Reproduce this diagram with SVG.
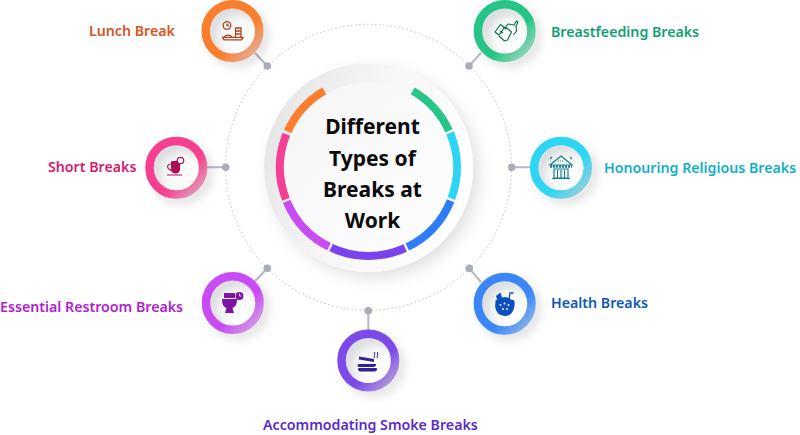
<svg xmlns="http://www.w3.org/2000/svg" width="800" height="435" viewBox="0 0 800 435">
<style>
text{font-family:"Noto Sans","Open Sans","Liberation Sans",sans-serif}
.lb{font-size:14.2px;font-weight:600}
.tt{font-size:21px;font-weight:700;fill:#0b0b0b;text-anchor:middle}
.seg{fill:none;stroke-width:8}
.ln{stroke:#b4b8c2;stroke-width:2;fill:none}
.dt{fill:#a9adb8}
.disc{fill:url(#discG)}
.ring{fill:none;stroke-width:8.5}
</style>
<defs>
<filter id="sh" x="-40%" y="-40%" width="190%" height="190%"><feDropShadow dx="5" dy="5" stdDeviation="5" flood-color="#000" flood-opacity=".13"/></filter>
<filter id="shB" x="-30%" y="-30%" width="170%" height="170%"><feDropShadow dx="6" dy="6" stdDeviation="8" flood-color="#000" flood-opacity=".12"/></filter>
<linearGradient id="discG" x1="0" y1="0" x2="1" y2="1"><stop offset="0" stop-color="#eceef0"/><stop offset=".6" stop-color="#fbfbfb"/><stop offset="1" stop-color="#fff"/></linearGradient>
<linearGradient id="bigG" x1="0" y1="0" x2="1" y2=".35"><stop offset="0" stop-color="#e2e2e3"/><stop offset=".55" stop-color="#f6f6f7"/><stop offset="1" stop-color="#fefefe"/></linearGradient>
<linearGradient id="bigI" x1="0" y1="0" x2="1" y2="1"><stop offset="0" stop-color="#f5f5f6"/><stop offset="1" stop-color="#fefefe"/></linearGradient>
<linearGradient id="gO" x1=".2" y1=".2" x2=".9" y2=".9"><stop offset=".6" stop-color="#fb7d2e"/><stop offset="1" stop-color="#e6a98c"/></linearGradient>
<linearGradient id="gG" x1=".2" y1=".2" x2=".9" y2=".9"><stop offset=".6" stop-color="#27c587"/><stop offset="1" stop-color="#8ad3b6"/></linearGradient>
<linearGradient id="gC" x1=".2" y1=".2" x2=".9" y2=".9"><stop offset=".6" stop-color="#2fd6f3"/><stop offset="1" stop-color="#8bcfdf"/></linearGradient>
<linearGradient id="gB" x1=".2" y1=".2" x2=".9" y2=".9"><stop offset=".6" stop-color="#3a85f8"/><stop offset="1" stop-color="#7fabee"/></linearGradient>
<linearGradient id="gV" x1=".2" y1=".2" x2=".9" y2=".9"><stop offset=".6" stop-color="#7a4bea"/><stop offset="1" stop-color="#ab92da"/></linearGradient>
<linearGradient id="gM" x1=".2" y1=".2" x2=".9" y2=".9"><stop offset=".6" stop-color="#c94cf3"/><stop offset="1" stop-color="#cf93e6"/></linearGradient>
<linearGradient id="gP" x1=".2" y1=".2" x2=".9" y2=".9"><stop offset=".6" stop-color="#f6418f"/><stop offset="1" stop-color="#e590b4"/></linearGradient>
</defs>
<rect width="800" height="435" fill="#fff"/>
<g id="connectors">
<circle cx="368.500" cy="167.300" r="143" fill="none" stroke="#b9bcc4" stroke-width="1" stroke-dasharray="1.500 2.500"/>
<path class="ln" d="M255 53L267.300 66M481 53L469 66M531 167.300H511.700M207 167.300H225.700M481 282L469.300 268.300M255 281L267.300 268.300M368.300 331V310.700"/>
<circle class="dt" cx="267.300" cy="66" r="3.800"/><circle class="dt" cx="469" cy="66" r="3.800"/><circle class="dt" cx="511.700" cy="167.300" r="3.800"/><circle class="dt" cx="469.300" cy="268.300" r="3.800"/><circle class="dt" cx="368.300" cy="310.700" r="3.800"/><circle class="dt" cx="267.300" cy="268.300" r="3.800"/><circle class="dt" cx="225.700" cy="167.300" r="3.800"/>
</g>
<g id="center">
<circle cx="368.500" cy="167.500" r="104.500" fill="url(#bigG)" filter="url(#shB)"/>
<circle cx="368.500" cy="167.500" r="85" fill="url(#bigI)"/>
<path class="seg" stroke="#fb7d2e" d="M324.250 90.860A88.500 88.500 0 0 0 287.650 131.500"/>
<path class="seg" stroke="#f43f93" d="M286.400 134.350A88.500 88.500 0 0 0 285.900 199.200"/>
<path class="seg" stroke="#c94cf3" d="M286.700 201.400A88.500 88.500 0 0 0 329 246.700"/>
<path class="seg" stroke="#7a43ee" d="M331.100 247.700A88.500 88.500 0 0 0 405.200 248"/>
<path class="seg" stroke="#2f7cf8" d="M407.300 247A88.500 88.500 0 0 0 450.600 200.650"/>
<path class="seg" stroke="#2dd5f5" d="M451.400 198.500A88.500 88.500 0 0 0 450 132.900"/>
<path class="seg" stroke="#27c587" d="M449 130.800A88.500 88.500 0 0 0 412.750 90.860"/>
<text class="tt" x="372.500" y="134">Different</text>
<text class="tt" x="372.500" y="166">Types of</text>
<text class="tt" x="372.500" y="197">Breaks at</text>
<text class="tt" x="372.500" y="228">Work</text>
</g>
<g id="node-lunch">
<circle cx="232.500" cy="31" r="22.500" class="disc"/>
<circle cx="232.500" cy="31" r="26.800" class="ring" stroke="url(#gO)" filter="url(#sh)"/>
<g fill="none" stroke="#a9451f" stroke-width="1.300"><circle cx="227" cy="25.500" r="3.800"/><path d="M227 23.500V25.500H229"/><path d="M224 37a4.500 3.500 0 0 1 8 0M235.500 28v9M241 28v9M235 28h6.500M235 31h6.500M235 34h6.500"/><path d="M222.500 37.300h20.500l-1.500 2.500h-17.500z"/></g>
<text class="lb" x="89" y="36" fill="#d9541e">Lunch Break</text>
</g>
<g id="node-breastfeeding">
<circle cx="504.700" cy="31" r="22.500" class="disc"/>
<circle cx="504.700" cy="31" r="26.800" class="ring" stroke="url(#gG)" filter="url(#sh)"/>
<g fill="none" stroke="#0e7352" stroke-width="1.200" stroke-linejoin="round"><path d="M495 32l5.500-7.500 4 3-5.500 7.500zM499 36l5.500 5 3-1 4-8-6-5M505 28l3-4 6 1 2.500-4 1.500 1-2 4 .5 5-3 4M500 31l3 2M503 27l3 2"/></g>
<text class="lb" x="551" y="37" fill="#0fa174">Breastfeeding Breaks</text>
</g>
<g id="node-religious">
<circle cx="561" cy="167.800" r="22.500" class="disc"/>
<circle cx="561" cy="167.800" r="26.800" class="ring" stroke="url(#gC)" filter="url(#sh)"/>
<g fill="none" stroke="#167f92" stroke-width="1.200"><path d="M561 156l-11 9h22zM554 169h14v9h-14zM557.500 170v8M561 170v8M564.500 170v8M552 178.500h18M552 157l-2 2M570 157l2 2"/><path d="M550 166.500h22" stroke-width="2.500" stroke-dasharray="2 1"/><path d="M558 161h6" stroke-dasharray="1 1"/></g>
<text class="lb" x="604" y="173" fill="#12afc9">Honouring Religious Breaks</text>
</g>
<g id="node-health">
<circle cx="504.700" cy="303.700" r="22.500" class="disc"/>
<circle cx="504.700" cy="303.700" r="26.800" class="ring" stroke="url(#gB)" filter="url(#sh)"/>
<path d="M495.500 300h18.500a9.500 9.500 0 0 1-18.500 7z" fill="#0d4fc0"/><circle cx="504.700" cy="306.500" r="9.500" fill="#0d4fc0"/>
<path d="M496 296l4.500-3.500 2 6.500-5 2z" fill="#0d4fc0"/><path d="M509 300l1-7h3.500" fill="none" stroke="#0d4fc0" stroke-width="1.300"/>
<g fill="#fff"><circle cx="500.500" cy="305" r=".9"/><circle cx="504.500" cy="303.500" r=".9"/><circle cx="508.500" cy="305" r=".9"/><circle cx="503" cy="309" r=".9"/><circle cx="507" cy="309" r=".9"/></g>
<text class="lb" x="551" y="308" fill="#0d57b8">Health Breaks</text>
</g>
<g id="node-smoke">
<circle cx="368.300" cy="360.500" r="22.500" class="disc"/>
<circle cx="368.300" cy="360.500" r="26.800" class="ring" stroke="url(#gV)" filter="url(#sh)"/>
<path d="M359 356.500l15 2.500v3l-15-2.500z" fill="#35209a"/><path d="M359 364h17v1.500l-2 1.500h-15a1.500 1.500 0 0 1 0-3z M359 368h17a1 1 0 0 1 1 1a2.500 2.500 0 0 1-2.500 2.500h-14a2.500 2.500 0 0 1-2.500-2.500a1 1 0 0 1 1-1z" fill="#35209a"/><path d="M374.500 358c-1-2 1-3 0-6M377.500 358c-1-2 1-3 0-6" fill="none" stroke="#35209a" stroke-width="1"/>
<text class="lb" x="263" y="430" fill="#5b2bc9">Accommodating Smoke Breaks</text>
</g>
<g id="node-restroom">
<circle cx="232.800" cy="303" r="22.500" class="disc"/>
<circle cx="232.800" cy="303" r="26.800" class="ring" stroke="url(#gM)" filter="url(#sh)"/>
<path d="M224 293h11v5h-11zM222 299h15c0 6-2 8-4.500 9l1.500 5h-9l1.500-5c-2.500-1-4.500-3-4.500-9z" fill="#7e14a6"/><circle cx="239.500" cy="296" r="4" fill="#7e14a6"/><path d="M239.500 293.500v2.500h2" fill="none" stroke="#fff" stroke-width=".8"/>
<text class="lb" x="0" y="312" fill="#b021cf">Essential Restroom Breaks</text>
</g>
<g id="node-short">
<circle cx="176.300" cy="167.800" r="22.500" class="disc"/>
<circle cx="176.300" cy="167.800" r="26.800" class="ring" stroke="url(#gP)" filter="url(#sh)"/>
<path d="M171 161.500c3-1 8-1 9 1v7c0 2-2 4-4 4h-1c-3 0-4-3-4-6z" fill="#a80f56"/><path d="M171 164c-3 0-4 2-3 4s3 2 4 3M167 175h15" fill="none" stroke="#a80f56" stroke-width="1.200"/><circle cx="180.500" cy="160.500" r="3.200" fill="#fff" stroke="#a80f56" stroke-width="1.200"/>
<text class="lb" x="48" y="172" fill="#d41a6e">Short Breaks</text>
</g>
</svg>
